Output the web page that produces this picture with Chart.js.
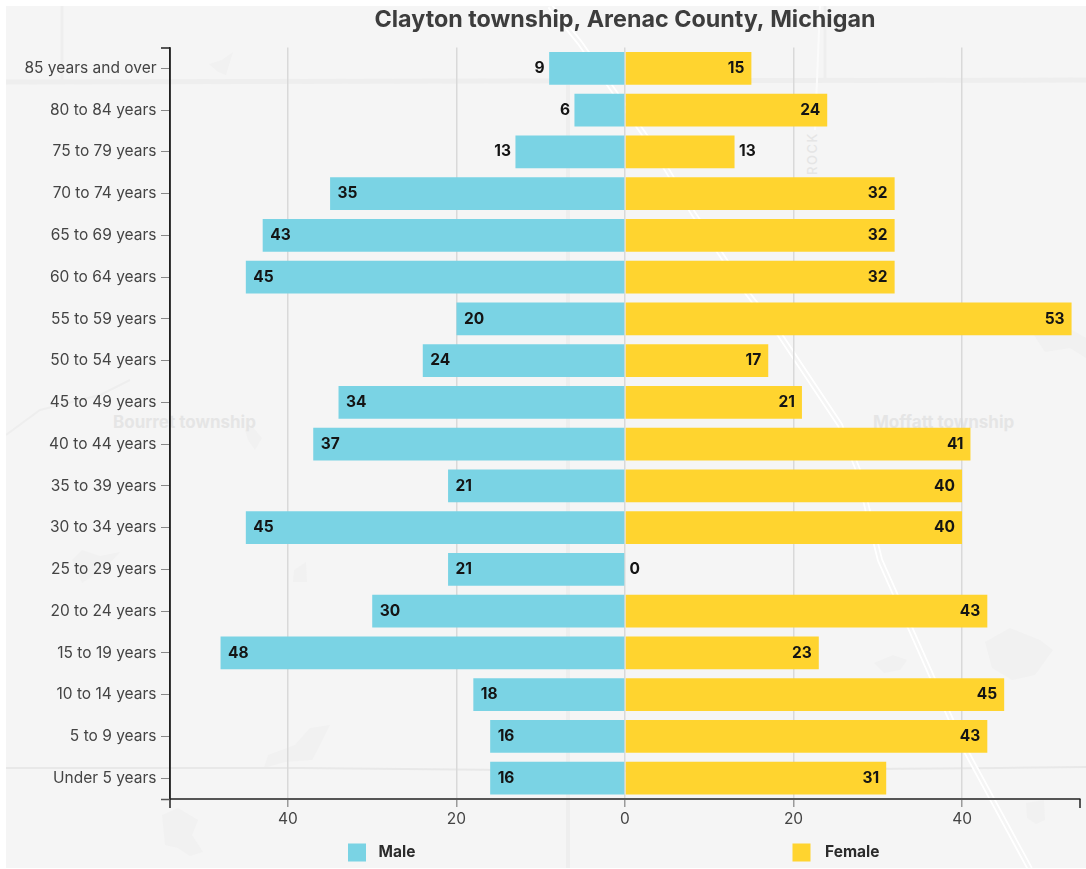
<!DOCTYPE html>
<html>
<head>
<meta charset="utf-8">
<title>Clayton township population pyramid</title>
<script src="https://cdn.jsdelivr.net/npm/chart.js@4"></script>
<style>
  html, body { margin: 0; padding: 0; background: #fff; width: 1086px; height: 869px; overflow: hidden; }
  #panel { position: absolute; left: 6px; top: 6px; width: 1080px; height: 862px; background: #f5f5f5; overflow: hidden; }
  #basemap { position: absolute; left: -6px; top: -6px; }
  #chart { position: absolute; left: 0; top: 0; }
</style>
</head>
<body>
<div id="panel">
  <!-- faint basemap behind the chart: roads, lakes and place names -->
  <svg id="basemap" width="1086" height="869" viewBox="0 0 1086 869" xmlns="http://www.w3.org/2000/svg">
    <g fill="#f1f1f1">
      <path d="M985 642 L1010 628 L1040 640 L1053 650 L1035 675 L1012 680 L992 668 Z"/>
      <path d="M874 663 L893 655 L907 660 L900 670 L884 673 Z"/>
      <path d="M1026 803 L1044 800 L1045 820 L1036 824 L1027 818 Z"/>
      <path d="M162 815 L178 808 L198 820 L192 835 L203 852 L190 856 L178 848 L165 845 Z"/>
      <path d="M264 768 L268 755 L295 745 L310 728 L330 725 L320 745 L312 760 L285 762 Z"/>
      <path d="M294 570 L306 562 L307 582 L293 582 Z"/>
      <path d="M72 560 L82 550 L100 556 L120 552 L105 568 L82 583 Z"/>
      <path d="M1034 335 L1050 325 L1072 330 L1086 338 L1086 358 L1070 348 L1045 352 Z"/>
      <path d="M209 64 L222 60 L233 52 L226 75 L218 72 Z"/>
      <path d="M245 430 L252 426 L262 438 L255 450 L248 440 Z"/>
    </g>
    <g fill="none" stroke="#eeeeee">
      <path d="M62 6 L62 80" stroke-width="3"/>
      <path d="M825 6 L825 80" stroke-width="3"/>
      <path d="M6 82 L1086 80" stroke-width="5"/>
      <path d="M568 85 L568 869" stroke-width="4"/>
      <path d="M6 768 L300 768 L600 771 L1000 768 L1086 767" stroke-width="2" stroke="#e8e8e8"/>
      <path d="M6 435 L40 410 L100 395 L130 380" stroke-width="2"/>
    </g>
    <g fill="none" stroke-linejoin="round">
      <path d="M815 130 L820 6" stroke="#fbfbfb" stroke-width="2"/>
      <path d="M550 6 L580 43 L613 90 L655 150 L693 213 L745 290 L780 335 L840 425 L858 470 L870 520 L880 560 L920 650 L960 740 L1030 869" stroke="#ffffff" stroke-width="6"/>
      <path d="M550 6 L580 43 L613 90 L655 150 L693 213 L745 290 L780 335 L840 425 L858 470 L870 520 L880 560 L920 650 L960 740 L1030 869" stroke="#f5f5f5" stroke-width="2.5"/>
    </g>
    <g font-family="Inter" font-weight="700" font-size="17" fill="#e5e5e5">
      <text x="113" y="428">Bourret township</text>
      <text x="873" y="428">Moffatt township</text>
      <text transform="translate(817 175) rotate(-90)" font-size="13" font-weight="500" letter-spacing="1.5">ROCK</text>
    </g>
  </svg>
</div>
<canvas id="chart" width="1086" height="869"></canvas>
<script>
// Age groups, top row of the pyramid first
const ageGroups = ["85 years and over", "80 to 84 years", "75 to 79 years", "70 to 74 years",
  "65 to 69 years", "60 to 64 years", "55 to 59 years", "50 to 54 years", "45 to 49 years",
  "40 to 44 years", "35 to 39 years", "30 to 34 years", "25 to 29 years", "20 to 24 years",
  "15 to 19 years", "10 to 14 years", "5 to 9 years", "Under 5 years"];
const maleCounts = [9, 6, 13, 35, 43, 45, 20, 24, 34, 37, 21, 45, 21, 30, 48, 18, 16, 16];
const femaleCounts = [15, 24, 13, 32, 32, 32, 53, 17, 21, 41, 40, 40, 0, 43, 23, 45, 43, 31];
const chartTitle = "Clayton township, Arenac County, Michigan";
const maleColor = "#7AD3E4";
const femaleColor = "#FFD42F";

const FONT = "Inter";

// Counts too small to hold their label inside the bar are written beyond its end
const INSIDE_MIN = 14;

const valueLabels = {
  id: "valueLabels",
  afterDatasetsDraw(chart) {
    const ctx = chart.ctx;
    ctx.save();
    ctx.font = `700 15.5px ${FONT}`;
    ctx.fillStyle = "#141414";
    ctx.textBaseline = "middle";
    chart.data.datasets.forEach((ds, di) => {
      const counts = di === 0 ? maleCounts : femaleCounts;
      chart.getDatasetMeta(di).data.forEach((bar, i) => {
        const n = counts[i];
        const inside = n >= INSIDE_MIN;
        let x, align;
        if (di === 0) {
          x = inside ? bar.x + 7.5 : bar.x - 4.5;
          align = inside ? "left" : "right";
        } else {
          x = inside ? bar.x - 7 : bar.x + 4.5;
          align = inside ? "right" : "left";
        }
        ctx.textAlign = align;
        ctx.fillText(String(n), x, bar.y);
      });
    });
    ctx.restore();
  }
};

// Closing ticks at both ends of each axis line
const axisEnds = {
  id: "axisEnds",
  afterDraw(chart) {
    const { left, right, top, bottom } = chart.chartArea;
    const ctx = chart.ctx;
    ctx.save();
    ctx.strokeStyle = "#222";
    ctx.lineWidth = 1.5;
    ctx.beginPath();
    ctx.moveTo(left - 9, top + 0.5);
    ctx.lineTo(left, top + 0.5);
    ctx.moveTo(left, top);
    ctx.lineTo(left, bottom + 9);
    ctx.moveTo(right, bottom);
    ctx.lineTo(right, bottom + 9);
    ctx.stroke();
    ctx.strokeStyle = "#555";
    ctx.beginPath();
    ctx.moveTo(left - 9, bottom + 0.5);
    ctx.lineTo(left, bottom + 0.5);
    ctx.stroke();
    ctx.restore();
  }
};

// Two-item key set wide apart under the plot
const wideLegend = {
  id: "wideLegend",
  afterDraw(chart) {
    const ctx = chart.ctx;
    const boxes = [348, 792.5];
    const texts = [378.5, 825];
    ctx.save();
    ctx.font = `700 15.5px ${FONT}`;
    ctx.textBaseline = "middle";
    ctx.textAlign = "left";
    chart.data.datasets.forEach((ds, i) => {
      ctx.fillStyle = ds.backgroundColor;
      ctx.fillRect(boxes[i], 843.5, 18, 18);
      ctx.fillStyle = "#2b2b2b";
      ctx.fillText(ds.label, texts[i], 852.5);
    });
    ctx.restore();
  }
};

new Chart(document.getElementById("chart"), {
  type: "bar",
  data: {
    labels: ageGroups,
    datasets: [
      { label: "Male", data: maleCounts.map(v => -v), backgroundColor: maleColor },
      { label: "Female", data: femaleCounts, backgroundColor: femaleColor }
    ]
  },
  plugins: [valueLabels, axisEnds, wideLegend],
  options: {
    indexAxis: "y",
    responsive: false,
    animation: false,
    layout: { padding: { left: 0, right: 6, top: 0, bottom: 0 } },
    datasets: { bar: { grouped: false, categoryPercentage: 1, barPercentage: 0.785 } },
    scales: {
      x: {
        min: -54,
        max: 54,
        afterFit(scale) { scale.height = 70; },
        grid: {
          color: "#d9d9d9",
          lineWidth: 1.5,
          tickColor: "#9a9a9a",
          tickLength: 8
        },
        border: { color: "#555", width: 2 },
        ticks: {
          stepSize: 20,
          includeBounds: false,
          maxRotation: 0,
          padding: 3.5,
          color: "#444",
          font: { family: FONT, size: 15.5 },
          callback: v => String(Math.abs(v))
        }
      },
      y: {
        afterFit(scale) { scale.width = 170; },
        grid: {
          offset: false,
          drawOnChartArea: false,
          tickColor: "#888",
          tickLength: 9
        },
        border: { color: "#222", width: 1.5 },
        ticks: {
          autoSkip: false,
          padding: 4.5,
          color: "#444",
          font: { family: FONT, size: 15.5 }
        }
      }
    },
    plugins: {
      legend: { display: false },
      tooltip: { enabled: false },
      title: {
        display: true,
        text: chartTitle,
        fullSize: false,
        color: "#3d3d3d",
        font: { family: FONT, size: 23.3, weight: "700" },
        padding: { top: 6, bottom: 13.5 }
      }
    }
  }
});
</script>
</body>
</html>
